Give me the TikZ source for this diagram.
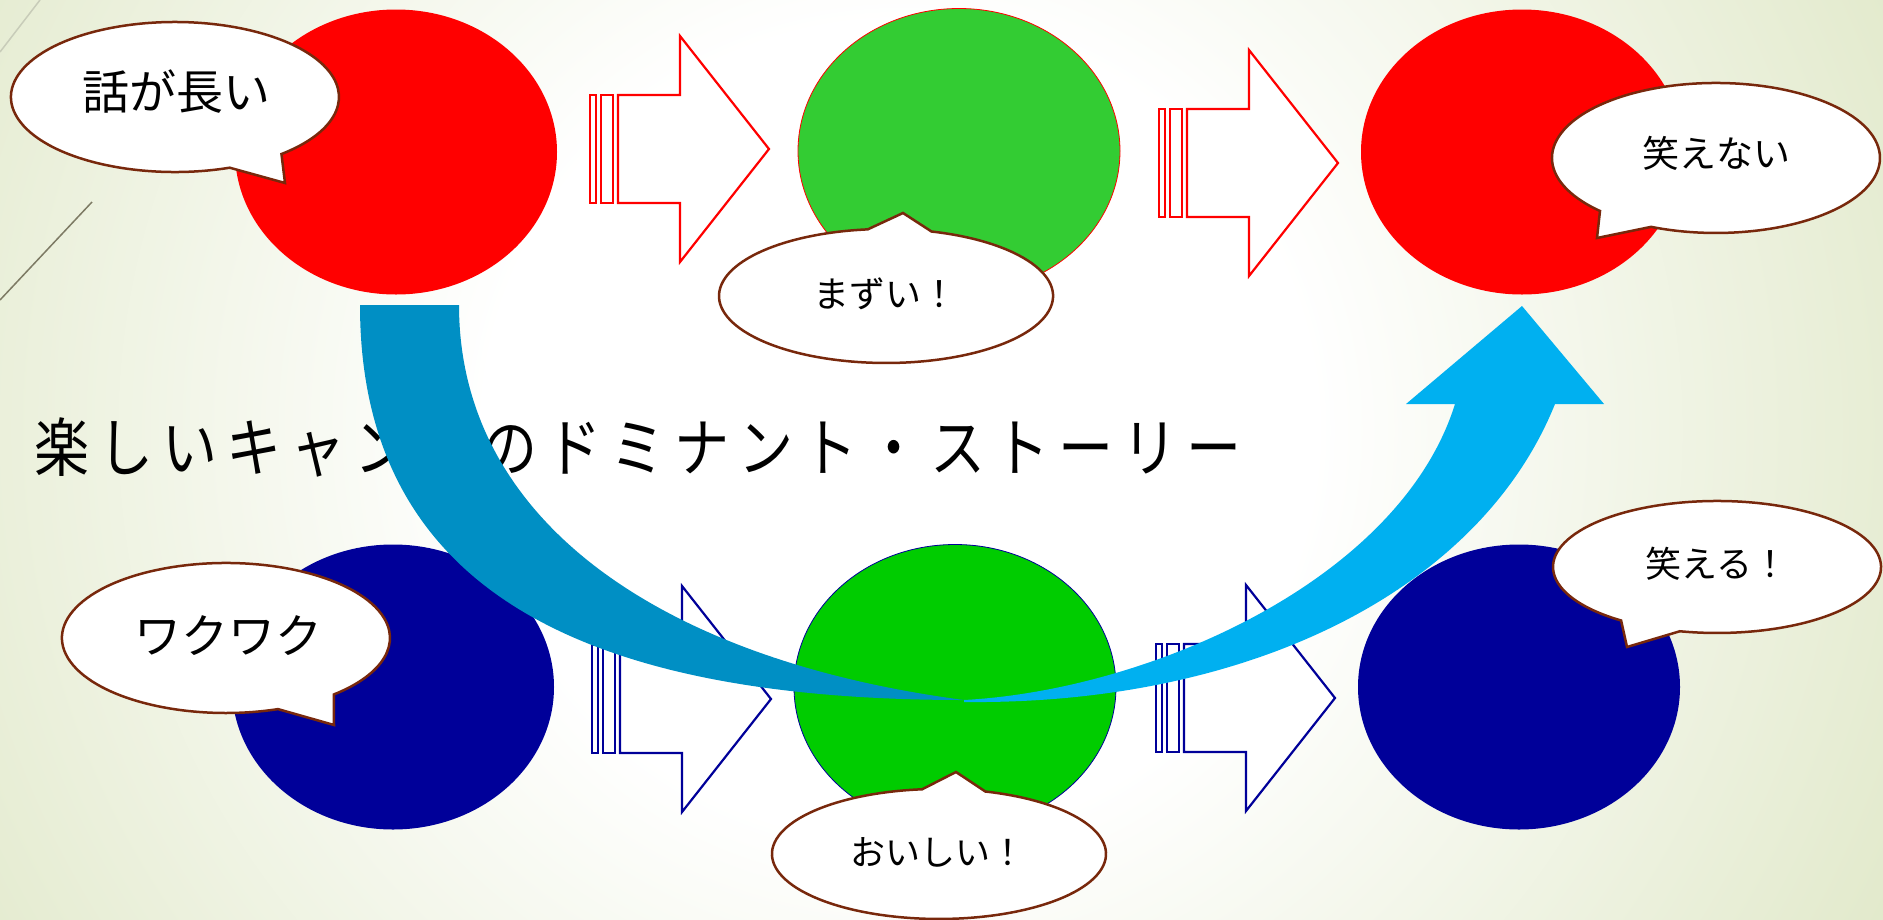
\documentclass[tikz,border=0pt]{standalone}
\usepackage{fontspec}
\newfontfamily\jpfont{Noto Sans CJK JP}
\newfontfamily\jpnarrow[FakeStretch=0.86]{Noto Sans CJK JP}
\newcommand\tchar[1]{\makebox[64pt]{#1}}
\usetikzlibrary{shapes.geometric}
\definecolor{bgout}{RGB}{224,232,200}
\definecolor{greenA}{RGB}{51,204,51}
\definecolor{greenB}{RGB}{0,204,0}
\definecolor{navy}{RGB}{0,0,153}
\definecolor{bubbleline}{RGB}{120,40,12}
\definecolor{darkblue}{RGB}{0,143,196}
\definecolor{lightblue}{RGB}{0,176,240}
\definecolor{decoA}{RGB}{200,204,185}
\definecolor{decoB}{RGB}{125,122,100}
\pgfdeclareradialshading{bgshade}{\pgfpoint{0bp}{0bp}}{color(0bp)=(white); color(9bp)=(white); color(25bp)=(bgout); color(50bp)=(bgout)}
\tikzset{
  sarrow/.pic={
    \path[pic actions] (1,-54) rectangle (7,54);
    \path[pic actions] (12,-54) rectangle (24,54);
    \path[pic actions] (29,-54) -- (91,-54) -- (91,-113) -- (180,0) -- (91,113) -- (91,54) -- (29,54) -- cycle;
  },
  redarrow/.style={draw=red, fill=white, line width=2.2pt, line join=miter},
  bluearrow/.style={draw=navy, fill=white, line width=2.2pt, line join=miter},
  blob/.style={ellipse, inner sep=0pt, minimum width=322pt, minimum height=285pt},
  bubble/.style={fill=white, draw=bubbleline, line width=2.5pt, line join=miter},
  btext/.style={inner sep=0pt, text=black},
}
\begin{document}
\begin{tikzpicture}[x=1pt,y=-1pt]
\useasboundingbox (0,0) rectangle (1883,919);
% background
\begin{scope}
  \clip (0,0) rectangle (1883,919);
  \shade[shading=bgshade] (-250,-700) rectangle (2050,1560);
\end{scope}
\draw[decoA, line width=1.5pt] (0,52) -- (40,0);
\draw[decoB, line width=1.5pt] (92,202) -- (0,300);

% big ellipses
\node[blob, fill=red] (r1) at (396,152) {};
\node[blob, fill=greenA, draw=red, line width=0.8pt] (g1) at (959,151) {};
\node[blob, fill=red] (r2) at (1522,152) {};
\node[blob, fill=navy] (n1) at (393,687) {};
\node[blob, fill=greenB, draw=navy, line width=0.8pt] (g2) at (955,687) {};
\node[blob, fill=navy] (n2) at (1519,687) {};

% striped arrows
\pic[redarrow] (a1) at (589,149) {sarrow};
\pic[redarrow] (a2) at (1158,163) {sarrow};
\pic[bluearrow] (b1) at (591,699) {sarrow};
\pic[bluearrow] (b2) at (1155,698) {sarrow};

% callouts
\draw[bubble] (229.7,167.7) arc[start angle=70.5, end angle=409.5, x radius=164, y radius=75] -- (285,183) -- cycle;
\node[btext, font=\jpfont\fontsize{47}{52}\selectfont] (t1) at (176,92) {話が長い};

\draw[bubble] (931.5,231.5) arc[start angle=285.8, end angle=623.7, x radius=167, y radius=67] -- (903,213) -- cycle;
\node[btext, font=\jpfont\fontsize{36}{40}\selectfont] (t2) at (885,294) {まずい！};

\draw[bubble] (1600.0,211.0) arc[start angle=135, end angle=473.3, x radius=164, y radius=75] -- (1597,238) -- cycle;
\node[btext, font=\jpfont\fontsize{37}{42}\selectfont] (t3) at (1716,153) {笑えない};

\draw[bubble] (278.0,709.1) arc[start angle=71.5, end angle=408.9, x radius=164, y radius=75] -- (334,725) -- cycle;
\node[btext, font=\jpfont\fontsize{47}{52}\selectfont] (t4) at (228,636) {ワクワク};

\draw[bubble] (985.3,791.5) arc[start angle=286.1, end angle=624.2, x radius=167, y radius=65] -- (956,772) -- cycle;
\node[btext, font=\jpfont\fontsize{35}{40}\selectfont] (t5) at (938,852) {おいしい！};

\draw[bubble] (1621.1,620.5) arc[start angle=125.8, end angle=463.1, x radius=164, y radius=66] -- (1627,647) -- cycle;
\node[btext, font=\jpfont\fontsize{36}{40}\selectfont] (t6) at (1717,564) {笑える！};

% title
\node[btext, anchor=west, font=\jpnarrow\fontsize{64}{70}\selectfont] (title) at (30,447)
  {\tchar{楽}\tchar{し}\tchar{い}\tchar{キ}\tchar{ャ}\tchar{ン}\tchar{プ}\tchar{の}\tchar{ド}\tchar{ミ}\tchar{ナ}\tchar{ン}\tchar{ト}\tchar{・}\tchar{ス}\tchar{ト}\tchar{ー}\tchar{リ}\tchar{ー}};

% curved arrows
\fill[darkblue] (360,305) -- (459,305) .. controls (459,520) and (660,660) .. (964,700)
  .. controls (600,700) and (360,600) .. (360,305) -- cycle;
\fill[lightblue] (964,700) .. controls (1150,690) and (1400,580) .. (1455,404)
  -- (1406,404) -- (1522,306) -- (1604,404) -- (1555,404)
  .. controls (1480,590) and (1250,705) .. (964,702) -- cycle;
\end{tikzpicture}
\end{document}
